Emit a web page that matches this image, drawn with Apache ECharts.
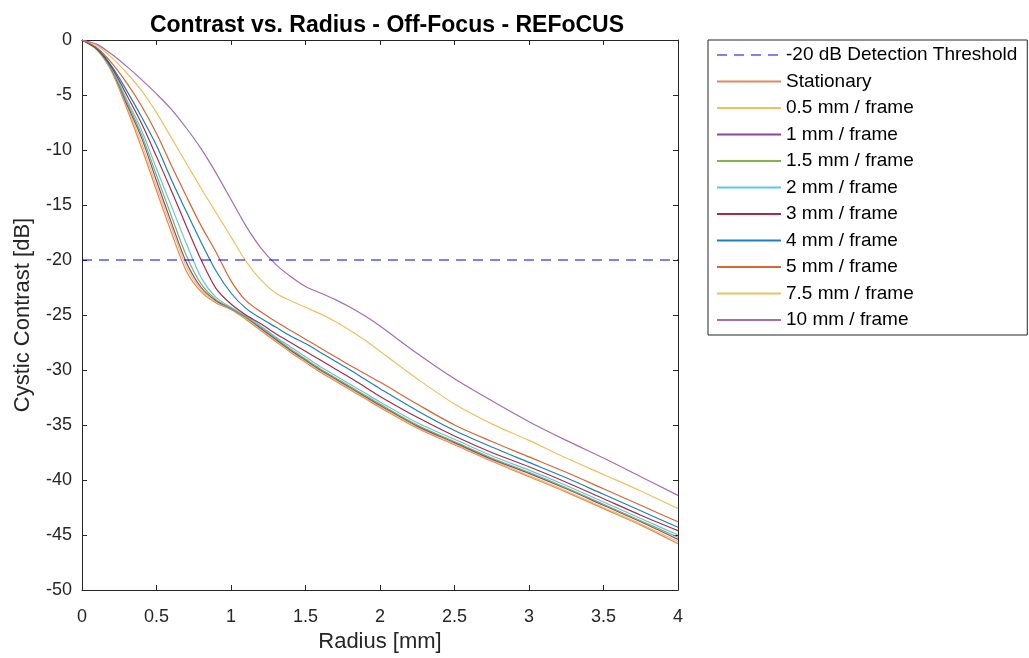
<!DOCTYPE html>
<html>
<head>
<meta charset="utf-8">
<title>Contrast vs. Radius - Off-Focus - REFoCUS</title>
<script src="https://cdn.jsdelivr.net/npm/echarts/dist/echarts.min.js"></script>
<style>
  html, body { margin: 0; padding: 0; background: #fff; }
  #chart { width: 1029px; height: 658px; }
</style>
</head>
<body>
<div id="chart"></div>
<script>
// radius samples [mm]
var radius = [0, 0.1, 0.2, 0.3, 0.4, 0.5, 0.6, 0.7, 0.8, 0.9, 1.0, 1.1, 1.2, 1.3, 1.4, 1.5, 1.6, 1.7, 1.8, 1.9, 2.0, 2.25, 2.5, 2.75, 3.0, 3.25, 3.5, 3.75, 4.0];

// cystic contrast [dB] per motion speed
var stationary = [0, -0.9, -2.9, -6.2, -9.8, -13.7, -17.5, -21.0, -22.9, -23.9, -24.5, -25.4, -26.4, -27.4, -28.4, -29.3, -30.2, -31.0, -31.8, -32.6, -33.4, -35.3, -36.8, -38.3, -39.7, -41.1, -42.6, -44.1, -45.8];
var mm05 = [0, -0.9, -2.8, -6.0, -9.4, -13.3, -17.0, -20.6, -22.7, -23.8, -24.4, -25.3, -26.3, -27.3, -28.3, -29.2, -30.1, -30.9, -31.7, -32.5, -33.3, -35.2, -36.7, -38.2, -39.6, -41.0, -42.5, -44.0, -45.6];
var mm1 = [0, -0.8, -2.7, -5.8, -8.9, -12.8, -16.6, -20.2, -22.5, -23.7, -24.4, -25.2, -26.2, -27.2, -28.2, -29.1, -30.0, -30.8, -31.6, -32.4, -33.2, -35.1, -36.6, -38.1, -39.4, -40.8, -42.3, -43.8, -45.4];
var mm15 = [0, -0.8, -2.7, -5.6, -8.6, -12.3, -16.0, -19.6, -22.2, -23.6, -24.4, -25.2, -26.1, -27.1, -28.1, -29.0, -29.9, -30.7, -31.5, -32.3, -33.1, -35.0, -36.5, -38.0, -39.3, -40.7, -42.2, -43.7, -45.2];
var mm2 = [0, -0.8, -2.6, -5.4, -8.2, -11.7, -15.1, -18.5, -21.6, -23.4, -24.3, -25.1, -26.0, -27.0, -27.9, -28.8, -29.7, -30.5, -31.3, -32.1, -32.9, -34.8, -36.3, -37.8, -39.1, -40.5, -42.0, -43.5, -45.0];
var mm3 = [0, -0.8, -2.5, -5.0, -7.6, -10.6, -13.7, -16.9, -20.0, -22.6, -24.0, -25.0, -25.8, -26.7, -27.5, -28.3, -29.1, -29.9, -30.7, -31.55, -32.4, -34.3, -36.0, -37.5, -38.8, -40.2, -41.7, -43.2, -44.6];
var mm4 = [0, -0.8, -2.4, -4.6, -7.0, -9.6, -12.7, -15.6, -18.4, -21.0, -23.0, -24.4, -25.3, -26.1, -26.9, -27.6, -28.4, -29.2, -30.0, -30.85, -31.7, -33.7, -35.5, -37.0, -38.4, -39.8, -41.3, -42.8, -44.3];
var mm5 = [0, -0.7, -2.1, -3.9, -6.0, -8.5, -11.4, -14.2, -16.9, -19.3, -21.9, -23.7, -24.7, -25.6, -26.4, -27.2, -28.0, -28.8, -29.6, -30.35, -31.1, -33.1, -35.0, -36.5, -37.9, -39.3, -40.8, -42.3, -43.8];
var mm75 = [0, -0.5, -1.6, -3.0, -4.6, -6.6, -8.9, -11.2, -13.5, -15.7, -17.9, -20.1, -21.8, -23.0, -23.7, -24.3, -24.9, -25.6, -26.4, -27.3, -28.3, -30.8, -33.1, -34.9, -36.4, -38.0, -39.5, -41.0, -42.6];
var mm10 = [0, -0.4, -1.3, -2.4, -3.6, -4.9, -6.3, -8.0, -9.9, -12.1, -14.5, -16.9, -18.9, -20.4, -21.5, -22.4, -23.0, -23.6, -24.3, -25.1, -26.0, -28.5, -30.8, -32.8, -34.7, -36.4, -38.0, -39.7, -41.4];

var thresholdX = [0, 4];
var thresholdDb = -20;

var names = ['Stationary', '0.5 mm / frame', '1 mm / frame', '1.5 mm / frame', '2 mm / frame',
  '3 mm / frame', '4 mm / frame', '5 mm / frame', '7.5 mm / frame', '10 mm / frame'];
var curves = [stationary, mm05, mm1, mm15, mm2, mm3, mm4, mm5, mm75, mm10];
var colors = ['#E07A4B', '#EDB94A', '#7E2F8E', '#77AC30', '#4DBEEE',
  '#A2142F', '#0072BD', '#D95319', '#EDB94A', '#9B5CAA'];

var font = 'Liberation Sans, Arial, Helvetica, sans-serif';
var ink = '#262626';

function pairs(xs, ys) {
  return xs.map(function (x, i) { return [x, ys[i]]; });
}

var series = [{
  name: '-20 dB Detection Threshold',
  type: 'line',
  data: thresholdX.map(function (x) { return [x, thresholdDb]; }),
  symbol: 'none',
  lineStyle: { color: 'rgba(0, 0, 255, 0.5)', width: 1.8, type: [10, 7] },
  itemStyle: { color: 'rgba(0, 0, 255, 0.5)' },
  z: 3
}];

curves.forEach(function (c, i) {
  series.push({
    name: names[i],
    type: 'line',
    data: pairs(radius, c),
    symbol: 'none',
    smooth: 0.3,
    lineStyle: { color: colors[i], width: 1.2, opacity: 0.9 },
    itemStyle: { color: colors[i] },
    z: 2
  });
});

var chart = echarts.init(document.getElementById('chart'));

// plain box frame: top / right axes only carry ticks
function frameAxis(extra) {
  var ax = {
    type: 'value',
    axisLine: { show: true, onZero: false, lineStyle: { color: ink } },
    axisTick: { show: true, inside: true, length: 5, lineStyle: { color: ink } },
    splitLine: { show: false }
  };
  for (var k in extra) ax[k] = extra[k];
  return ax;
}

var option = {
  animation: false,
  backgroundColor: '#fff',
  title: {
    text: 'Contrast vs. Radius - Off-Focus - REFoCUS',
    left: 382,
    top: 9,
    textAlign: 'center',
    textStyle: { fontFamily: font, fontSize: 23, fontWeight: 'bold', color: '#000' }
  },
  grid: { left: 82, right: 351, top: 40, bottom: 68 },
  legend: {
    orient: 'vertical',
    left: 708,
    top: 40,
    padding: [5, 10, 5, 8],
    itemWidth: 64,
    itemHeight: 12,
    itemGap: 6.5,
    borderColor: ink,
    borderWidth: 1,
    itemStyle: { color: 'rgba(0,0,0,0)', borderWidth: 0 },
    textStyle: { fontFamily: font, fontSize: 19, color: '#000', lineHeight: 20 },
    data: series.map(function (s) { return s.name; })
  },
  xAxis: [
    frameAxis({
      min: 0, max: 4, interval: 0.5,
      name: 'Radius [mm]',
      nameLocation: 'middle',
      nameGap: 41,
      nameTextStyle: { fontFamily: font, fontSize: 22, color: ink },
      axisLabel: { fontFamily: font, fontSize: 18, color: ink, margin: 18 }
    }),
    frameAxis({
      position: 'top',
      min: 0, max: 4, interval: 0.5,
      axisLabel: { show: false }
    })
  ],
  yAxis: [
    frameAxis({
      min: -50, max: 0, interval: 5,
      name: 'Cystic Contrast [dB]',
      nameLocation: 'middle',
      nameGap: 48,
      nameTextStyle: { fontFamily: font, fontSize: 22, color: ink },
      axisLabel: { fontFamily: font, fontSize: 18, color: ink, margin: 10 }
    }),
    frameAxis({
      position: 'right',
      min: -50, max: 0, interval: 5,
      axisLabel: { show: false }
    })
  ],
  series: series
};

chart.setOption(option);
</script>
</body>
</html>
